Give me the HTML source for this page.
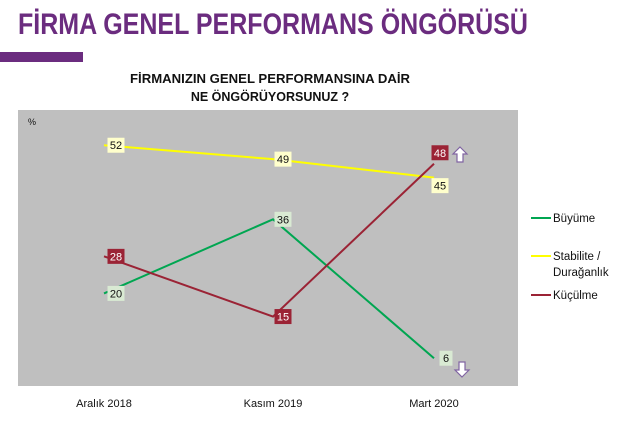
<!DOCTYPE html>
<html><head><meta charset="utf-8"><style>
body{margin:0;width:640px;height:421px;background:#fff;overflow:hidden;font-family:"Liberation Sans",sans-serif}
</style></head><body>
<svg width="640" height="421" xmlns="http://www.w3.org/2000/svg" font-family="Liberation Sans, sans-serif">
<text x="18" y="34" font-size="30" font-weight="bold" fill="#6b2c7f" textLength="510" lengthAdjust="spacingAndGlyphs">FİRMA GENEL PERFORMANS ÖNGÖRÜSÜ</text>
<rect x="0" y="52" width="83" height="10" fill="#6b2c7f"/>
<text x="270" y="83" font-size="12.5" font-weight="bold" text-anchor="middle" fill="#111" textLength="280" lengthAdjust="spacingAndGlyphs">FİRMANIZIN GENEL PERFORMANSINA DAİR</text>
<text x="270" y="101" font-size="12.5" font-weight="bold" text-anchor="middle" fill="#111">NE  ÖNGÖRÜYORSUNUZ ?</text>
<rect x="18" y="110" width="500" height="276" fill="#bfbfbf"/>
<text x="28" y="125" font-size="9" fill="#111">%</text>
<g id="marks"></g>
<g id="labels"></g>
<path d="M460 147 l7 7 h-4 v8 h-6 v-8 h-4 z" fill="#fff" stroke="#8064a2" stroke-width="1.2"/>
<path d="M462 377 l7 -7 h-4 v-8 h-6 v8 h-4 z" fill="#fff" stroke="#8064a2" stroke-width="1.2"/>
<g font-size="11.5" fill="#111">
<line x1="531" y1="218" x2="551" y2="218" stroke="#00a651" stroke-width="2"/><text x="553" y="222">Büyüme</text>
<line x1="531" y1="256" x2="551" y2="256" stroke="#ffff00" stroke-width="2"/><text x="553" y="260">Stabilite /</text><text x="553" y="276">Durağanlık</text>
<line x1="531" y1="295" x2="551" y2="295" stroke="#9b2335" stroke-width="2"/><text x="553" y="299">Küçülme</text>
</g>
</svg>
<script>
const categories=["Aralık 2018","Kasım 2019","Mart 2020"];
const buyume=[20,36,6];
const stabilite=[52,49,45];
const kuculme=[28,15,48];
const xs=i=>[104,273,434][i];
const y=v=>386-4.63*v;
const NS="http://www.w3.org/2000/svg";
const svg=document.querySelector('svg');
const marks=document.getElementById('marks'),labels=document.getElementById('labels');
categories.forEach((c,i)=>{const t=document.createElementNS(NS,'text');


t.setAttribute('x',xs(i));t.setAttribute('y',407);t.setAttribute('font-size','11');t.setAttribute('text-anchor','middle');t.setAttribute('fill','#111');t.textContent=c;svg.appendChild(t);});
const series=[
 {name:'buyume',data:buyume,color:'#00a651',bg:'#d9ead3',fg:'#111',off:[[12,0],[10,0],[12,0]]},
 {name:'stabilite',data:stabilite,color:'#ffff00',bg:'#ffffcc',fg:'#111',off:[[12,0],[10,0],[6,8]]},
 {name:'kuculme',data:kuculme,color:'#9b2335',bg:'#9b2335',fg:'#fff',off:[[12,0],[10,0],[6,-11]]}];
series.forEach(s=>{
 const p=document.createElementNS(NS,'polyline');
 
 
 p.setAttribute('points',s.data.map((v,i)=>xs(i)+','+y(v)).join(' '));
 p.setAttribute('fill','none');p.setAttribute('stroke',s.color);p.setAttribute('stroke-width','2');
 marks.appendChild(p);
 s.data.forEach((v,i)=>{
  const cx=xs(i)+s.off[i][0],cy=y(v)+s.off[i][1];
  const g=document.createElementNS(NS,'g');
  
  
  const w=String(v).length>1?17:13;
  g.innerHTML=`<rect x="${cx-w/2}" y="${cy-7.5}" width="${w}" height="15" fill="${s.bg}"/><text x="${cx}" y="${cy+4}" font-size="11" text-anchor="middle" fill="${s.fg}">${v}</text>`;
  labels.appendChild(g);
 });
});
</script>
</body></html>
